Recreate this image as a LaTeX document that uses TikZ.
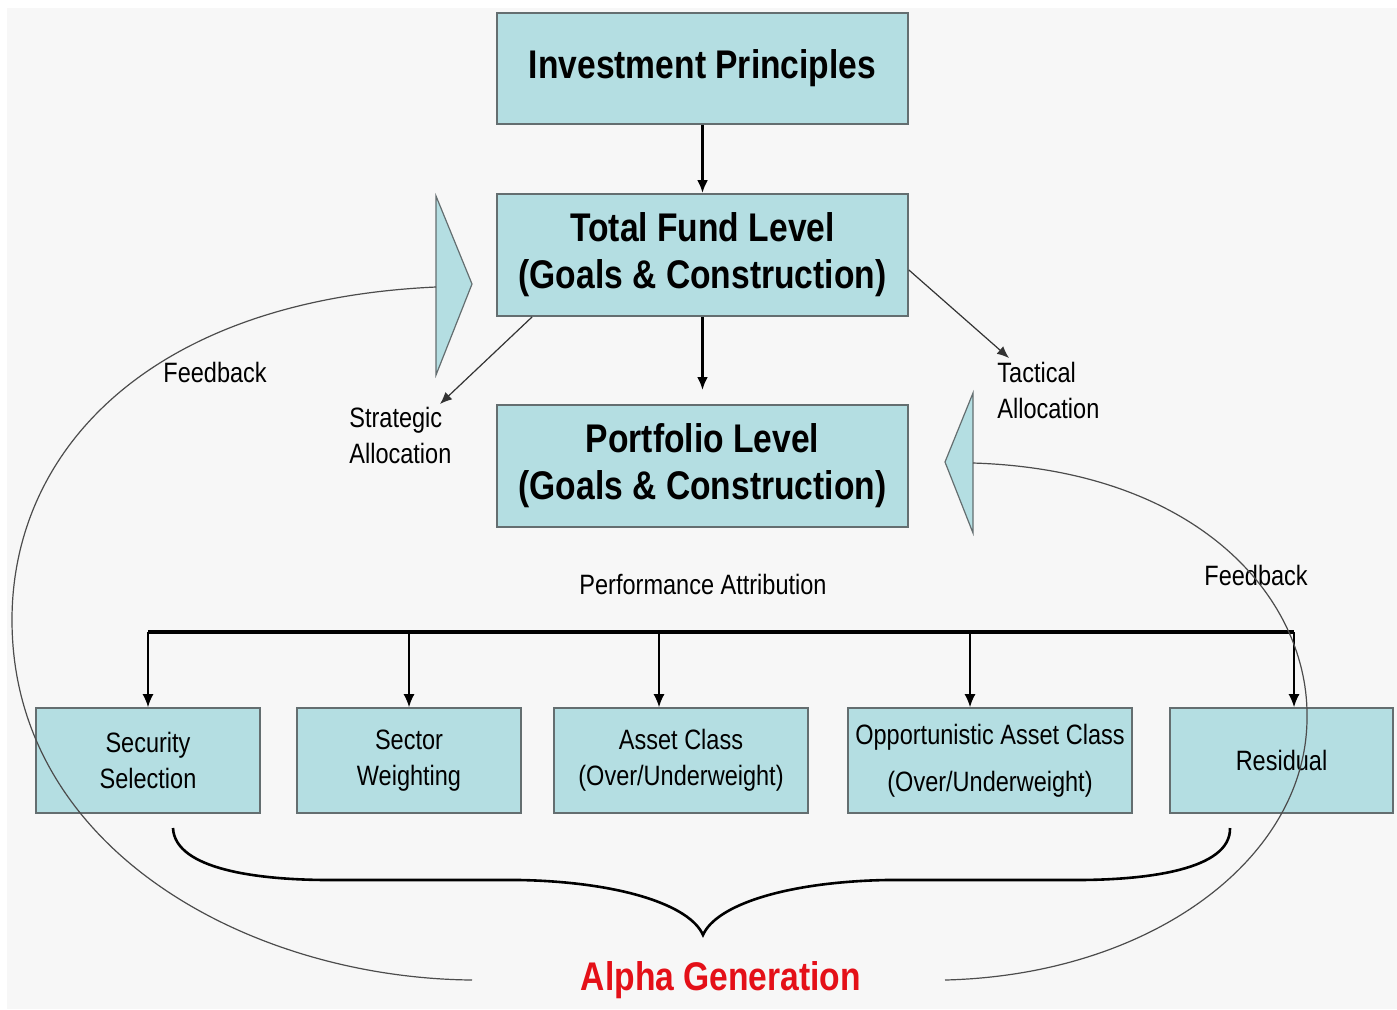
\documentclass[tikz,border=0pt]{standalone}
\usepackage{fontspec}
\setmainfont{Liberation Sans}[FakeStretch=0.84]
\usetikzlibrary{arrows.meta}

\definecolor{boxfill}{RGB}{180,222,226}
\definecolor{boxline}{RGB}{100,110,112}
\definecolor{paper}{RGB}{247,247,247}
\definecolor{alphared}{RGB}{228,16,24}

\tikzset{
  level/.style={draw=boxline, line width=0.9pt, fill=boxfill, align=center, inner sep=0pt,
    minimum width=205.5pt, minimum height=61pt, font=\bfseries\fontsize{20}{23.5}\selectfont},
  part/.style={draw=boxline, line width=0.9pt, fill=boxfill, align=center, inner sep=0pt,
    minimum height=52.5pt, font=\fontsize{14}{18}\selectfont},
  lbl/.style={align=left, inner sep=0pt, font=\fontsize{14}{18}\selectfont},
  flow/.style={-{Latex[length=6.5pt,width=5.5pt]}, line width=1.4pt},
  alloc/.style={-{Latex[length=6pt,width=5pt]}, line width=0.6pt, draw=black!80},
  drop/.style={-{Latex[length=6.5pt,width=5.5pt]}, line width=0.7pt},
  feedback/.style={line width=0.6pt, draw=black!70},
  wedge/.style={draw=boxline, line width=0.6pt, fill=boxfill},
}

\begin{document}
\begin{tikzpicture}[x=0.5pt,y=-0.5pt]
	\fill[white] (0,0) rectangle (1397,1009);
	\fill[paper] (7,8) rectangle (1397,1009);
	\useasboundingbox (0,0) rectangle (1397,1009);

	% levels
	\node[level, minimum height=55.5pt] (ip) at (702.5,68.5) {Investment Principles};
	\node[level] (tf) at (702.5,255) {Total Fund Level\\(Goals \& Construction)};
	\node[level] (pl) at (702.5,466) {Portfolio Level\\(Goals \& Construction)};

	% attribution boxes
	\node[part, minimum width=112pt] (ss) at (148,760.5) {Security\\Selection};
	\node[part, minimum width=112pt] (sw) at (409,760.5) {Sector\\Weighting};
	\node[part, minimum width=127pt] (ac) at (681,760.5) {Asset Class\\(Over/Underweight)};
	\node[part, minimum width=142pt, font=\fontsize{14}{23.5}\selectfont] (oac) at (990,760.5) {Opportunistic Asset Class\\(Over/Underweight)};
	\node[part, minimum width=111.5pt] (res) at (1281.5,760.5) {Residual};

	% wedges
	\draw[wedge] (436,196) -- (472,284) -- (436,375) -- cycle;
	\draw[wedge] (973,393) -- (945,462) -- (973,533) -- cycle;
	\coordinate (wl) at (436,287);
	\coordinate (wr) at (973,463);

	% labels
	\node[lbl, anchor=west] (fbl) at (163,372) {Feedback};
	\node[lbl, anchor=west] (sa) at (349,435) {Strategic\\Allocation};
	\node[lbl, anchor=west] (ta) at (997,390) {Tactical\\Allocation};
	\node[lbl] (pa) at (703,584) {Performance Attribution};
	\node[lbl, anchor=west] (fbr) at (1204,575) {Feedback};
	\node[font=\bfseries\fontsize{20}{24}\selectfont, text=alphared, inner sep=0pt] (alpha) at (721,980) {Alpha Generation};

	% main flow
	\coordinate (plin) at (702.5,390);
	\draw[flow] (ip) -- (tf);
	\draw[flow] (tf) -- (plin);

	\coordinate (strat) at (440,404);
	\coordinate (tact) at (1009,358);
	\draw[alloc] ([xshift=18pt]tf.south west) -- (strat);
	\draw[alloc] ([yshift=-7.5pt]tf.east) -- (tact);

	% bus to the attribution boxes
	\coordinate (busl) at (148,632);
	\coordinate (busr) at (1294,632);
	\draw[line width=2pt] (busl) -- (busr);
	\foreach \x/\n in {148/ss,409/sw,659/ac,970/oac,1294/res}
		\draw[drop] (\x,632) -- (\x,632 |- \n.north);

	% brace
	\draw[line width=1.3pt] (173,828) .. controls (175,870) and (260,880) .. (330,880) -- (520,880)
		.. controls (620,882) and (690,905) .. (703,935)
		.. controls (716,905) and (786,882) .. (886,880) -- (1076,880)
		.. controls (1146,880) and (1231,870) .. (1230,828);

	% feedback loops
	\draw[feedback] (wl) .. controls (150,300) and (12,450) .. (12,620)
		.. controls (12,850) and (250,978) .. (472,980);
	\draw[feedback] (wr) .. controls (1200,470) and (1310,600) .. (1307,720)
		.. controls (1305,860) and (1150,975) .. (945,980);
\end{tikzpicture}
\end{document}
